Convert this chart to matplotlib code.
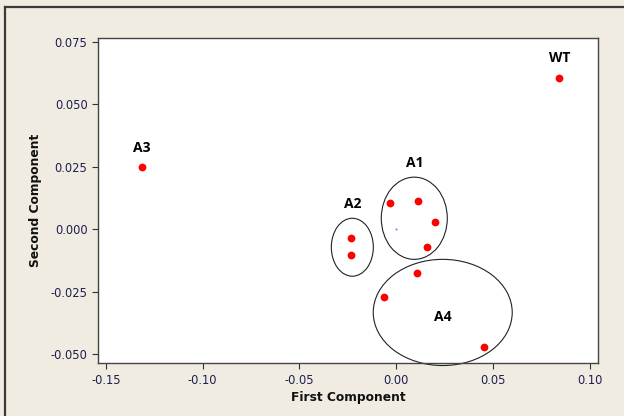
import matplotlib.pyplot as plt
from matplotlib.patches import Ellipse
from matplotlib.lines import Line2D

# scores on the first two components
first_comp = [0.0842, -0.1312, -0.0232, -0.0232, -0.0031, 0.0114, 0.0201, 0.0160, 0.0108, -0.0062, 0.0455]
second_comp = [0.0605, 0.0248, -0.0036, -0.0104, 0.0104, 0.0112, 0.0028, -0.0072, -0.0176, -0.0272, -0.0473]

# group labels and where they sit
group_names = ['WT', 'A3', 'A2', 'A1', 'A4']
label_x = [0.0842, -0.1317, -0.0227, 0.0093, 0.0240]
label_y = [0.0685, 0.0325, 0.0100, 0.0265, -0.0350]

# circles around groups: centre x, centre y, width, height
ellipse_names = ['A2', 'A1', 'A4']
ell_cx = [-0.0227, 0.0093, 0.0240]
ell_cy = [-0.0072, 0.0044, -0.0333]
ell_w = [0.0217, 0.0341, 0.0718]
ell_h = [0.0232, 0.0329, 0.0425]

bg = '#F0ECE2'
tick_col = '#1F1F4F'

fig = plt.figure(figsize=(6.24, 4.16), dpi=100, facecolor=bg)
ax = fig.add_axes([0.157, 0.127, 0.801, 0.782])
ax.set_facecolor('white')

ax.plot(first_comp, second_comp, 'o', color='#FF0000', markersize=5.6, markeredgewidth=0)
ax.plot([0.0], [0.0], 's', color='#6060FF', markersize=1.2, markeredgewidth=0)

for cx, cy, w, h in zip(ell_cx, ell_cy, ell_w, ell_h):
    ax.add_patch(Ellipse((cx, cy), w, h, fill=False, edgecolor='#222222', linewidth=0.8, clip_on=False))

for name, lx, ly in zip(group_names, label_x, label_y):
    ax.text(lx, ly, name, ha='center', va='center', fontsize=10, fontweight='bold',
            family='Open Sans', color='black')

ax.set_xlim(-0.1541, 0.1041)
ax.set_ylim(-0.0536, 0.0766)
ax.set_xticks([-0.15, -0.10, -0.05, 0.00, 0.05, 0.10])
ax.set_xticklabels(['-0.15', '-0.10', '-0.05', '0.00', '0.05', '0.10'])
ax.set_yticks([-0.050, -0.025, 0.000, 0.025, 0.050, 0.075])
ax.set_yticklabels(['-0.050', '-0.025', '0.000', '0.025', '0.050', '0.075'])
ax.tick_params(direction='out', length=4, width=0.8, colors='#333333', labelsize=8.3, labelcolor=tick_col)
for s in ax.spines.values():
    s.set_color('#444444')
    s.set_linewidth(1)

ax.set_xlabel('First Component', fontsize=8.8, fontweight='bold', color='#111111', labelpad=3)
ax.set_ylabel('Second Component', fontsize=8.8, fontweight='bold', color='#111111', labelpad=6)

# outer frame (left and top edges)
fig.add_artist(Line2D([0.008, 0.008], [0.0, 0.983], transform=fig.transFigure, color='#3A3A3A', linewidth=1.6))
fig.add_artist(Line2D([0.008, 1.0], [0.983, 0.983], transform=fig.transFigure, color='#3A3A3A', linewidth=1.6))

plt.savefig('out.png', dpi=100, facecolor=bg)
